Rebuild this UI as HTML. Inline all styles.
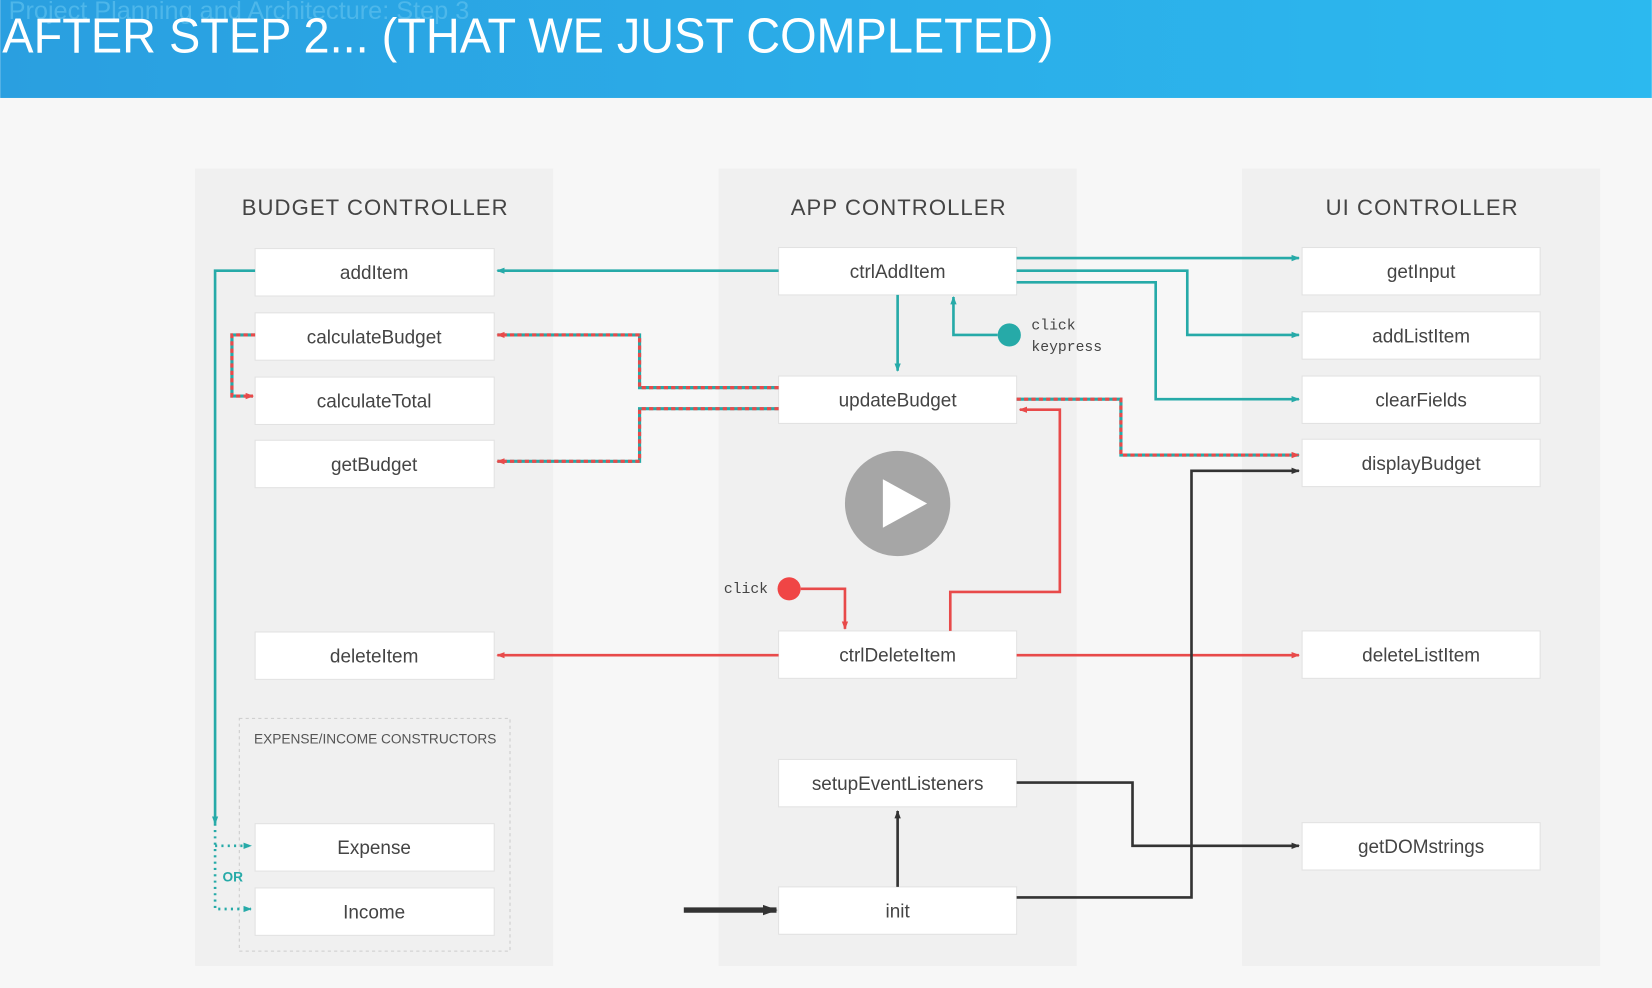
<!DOCTYPE html>
<html><head><meta charset="utf-8"><style>
html,body{margin:0;padding:0;background:#f7f7f7;overflow:hidden}
svg{display:block}
text{font-family:"Liberation Sans",sans-serif}
text.mono{font-family:"Liberation Mono",monospace}
</style></head><body>
<svg width="1652" height="988" viewBox="0 0 1568 938" xmlns="http://www.w3.org/2000/svg">
<defs>
<linearGradient id="hg" x1="0" x2="1" y1="0" y2="0"><stop offset="0" stop-color="#2a9fe0"/><stop offset="1" stop-color="#2cb9ef"/></linearGradient>
<marker id="at" markerWidth="8" markerHeight="8" refX="7" refY="4" orient="auto" markerUnits="userSpaceOnUse"><path d="M0,1 L8,4 L0,7z" fill="#26aaa8"/></marker>
<marker id="ar" markerWidth="8" markerHeight="8" refX="7" refY="4" orient="auto" markerUnits="userSpaceOnUse"><path d="M0,1 L8,4 L0,7z" fill="#e84a4a"/></marker>
<marker id="ad" markerWidth="8" markerHeight="8" refX="7" refY="4" orient="auto" markerUnits="userSpaceOnUse"><path d="M0,1 L8,4 L0,7z" fill="#333"/></marker>
<marker id="ab" markerWidth="14" markerHeight="12" refX="13" refY="6" orient="auto" markerUnits="userSpaceOnUse"><path d="M0,1 L14,6 L0,11z" fill="#333"/></marker>
</defs>
<rect x="0" y="0" width="1568" height="93" fill="url(#hg)"/>
<text x="8" y="18" font-size="24" fill="#5cc0ee" opacity="0.7">Project Planning and Architecture: Step 3</text>
<text x="2" y="50" font-size="47" fill="#fff" textLength="998" lengthAdjust="spacingAndGlyphs">AFTER STEP 2... (THAT WE JUST COMPLETED)</text>

<rect x="185" y="160" width="340" height="757" fill="#f0f0f0"/>
<rect x="682" y="160" width="340" height="757" fill="#f0f0f0"/>
<rect x="1179" y="160" width="340" height="757" fill="#f0f0f0"/>
<g font-size="21" fill="#444" text-anchor="middle" letter-spacing="1">
<text x="356" y="204">BUDGET CONTROLLER</text>
<text x="853" y="204">APP CONTROLLER</text>
<text x="1350" y="204">UI CONTROLLER</text>
</g>
<rect x="227" y="682" width="257" height="221" fill="none" stroke="#ccc" stroke-dasharray="3,3"/>
<text x="356" y="706" font-size="13" fill="#555" text-anchor="middle">EXPENSE/INCOME CONSTRUCTORS</text>

<g fill="#fff" stroke="#e2e2e2">
<rect x="242" y="236" width="227" height="45"/><rect x="242" y="297" width="227" height="45"/>
<rect x="242" y="358" width="227" height="45"/><rect x="242" y="418" width="227" height="45"/>
<rect x="242" y="600" width="227" height="45"/><rect x="242" y="782" width="227" height="45"/>
<rect x="242" y="843" width="227" height="45"/>
<rect x="739" y="235" width="226" height="45"/><rect x="739" y="357" width="226" height="45"/>
<rect x="739" y="599" width="226" height="45"/><rect x="739" y="721" width="226" height="45"/>
<rect x="739" y="842" width="226" height="45"/>
<rect x="1236" y="235" width="226" height="45"/><rect x="1236" y="296" width="226" height="45"/>
<rect x="1236" y="357" width="226" height="45"/><rect x="1236" y="417" width="226" height="45"/>
<rect x="1236" y="599" width="226" height="45"/><rect x="1236" y="781" width="226" height="45"/>
</g>
<g font-size="18" fill="#444" text-anchor="middle">
<text x="355" y="265">addItem</text><text x="355" y="326">calculateBudget</text>
<text x="355" y="387">calculateTotal</text><text x="355" y="447">getBudget</text>
<text x="355" y="629">deleteItem</text><text x="355" y="811">Expense</text>
<text x="355" y="872">Income</text>
<text x="852" y="264">ctrlAddItem</text><text x="852" y="386">updateBudget</text>
<text x="852" y="628">ctrlDeleteItem</text><text x="852" y="750">setupEventListeners</text>
<text x="852" y="871">init</text>
<text x="1349" y="264">getInput</text><text x="1349" y="325">addListItem</text>
<text x="1349" y="386">clearFields</text><text x="1349" y="446">displayBudget</text>
<text x="1349" y="628">deleteListItem</text><text x="1349" y="810">getDOMstrings</text>
</g>

<g fill="none" stroke="#26aaa8" stroke-width="2.5">
<path d="M739,257 H472" marker-end="url(#at)"/>
<path d="M242,257 H204 V782" marker-end="url(#at)"/>
<path d="M965,245 H1233" marker-end="url(#at)"/>
<path d="M965,257 H1127 V318 H1233" marker-end="url(#at)"/>
<path d="M965,268 H1097 V379 H1233" marker-end="url(#at)"/>
<path d="M852,280 V352" marker-end="url(#at)"/>
<path d="M947,318 H905 V282" marker-end="url(#at)"/>
</g>
<g fill="none" stroke="#26aaa8" stroke-width="2.5" stroke-dasharray="2,4">
<path d="M204,782 V863 H238" marker-end="url(#at)"/>
<path d="M204,803 H238" marker-end="url(#at)"/>
</g>
<text x="211" y="837" font-size="13" font-weight="bold" fill="#26aaa8">OR</text>
<circle cx="958" cy="318" r="11" fill="#26aaa8"/>
<g font-size="14" fill="#444"><text class="mono" x="979" y="313" style="font-family:'Liberation Mono',monospace">click</text><text class="mono" x="979" y="333" style="font-family:'Liberation Mono',monospace">keypress</text><text class="mono" x="687" y="563" style="font-family:'Liberation Mono',monospace">click</text></g>

<g fill="none" stroke-width="3">
<g stroke="#26aaa8">
<path d="M739,368 H607 V318 H472"/><path d="M739,388 H607 V438 H472"/>
<path d="M242,318 H220 V376 H240"/><path d="M965,379 H1064 V432 H1233"/>
</g>
<g stroke="#e84a4a" stroke-dasharray="4,3">
<path d="M739,368 H607 V318 H472" marker-end="url(#ar)"/><path d="M739,388 H607 V438 H472" marker-end="url(#ar)"/>
<path d="M242,318 H220 V376 H240" marker-end="url(#ar)"/><path d="M965,379 H1064 V432 H1233" marker-end="url(#ar)"/>
</g>
</g>

<g fill="none" stroke="#e84a4a" stroke-width="2.5">
<path d="M739,622 H472" marker-end="url(#ar)"/>
<path d="M965,622 H1233" marker-end="url(#ar)"/>
<path d="M760,559 H802 V597" marker-end="url(#ar)"/>
<path d="M902,599 V562 H1006 V389 H968" marker-end="url(#ar)"/>
</g>
<circle cx="749" cy="559" r="11" fill="#f04545"/>

<g fill="none" stroke="#333" stroke-width="2.5">
<path d="M965,852 H1131 V447 H1233" marker-end="url(#ad)"/>
<path d="M965,743 H1075 V803 H1233" marker-end="url(#ad)"/>
<path d="M852,842 V770" marker-end="url(#ad)"/>
<path d="M649,864 H737" stroke-width="5" marker-end="url(#ab)"/>
</g>

<circle cx="852" cy="478" r="50" fill="#999" opacity="0.85"/>
<path d="M838,455 L880,478 L838,501z" fill="#fff"/>
</svg>
</body></html>
